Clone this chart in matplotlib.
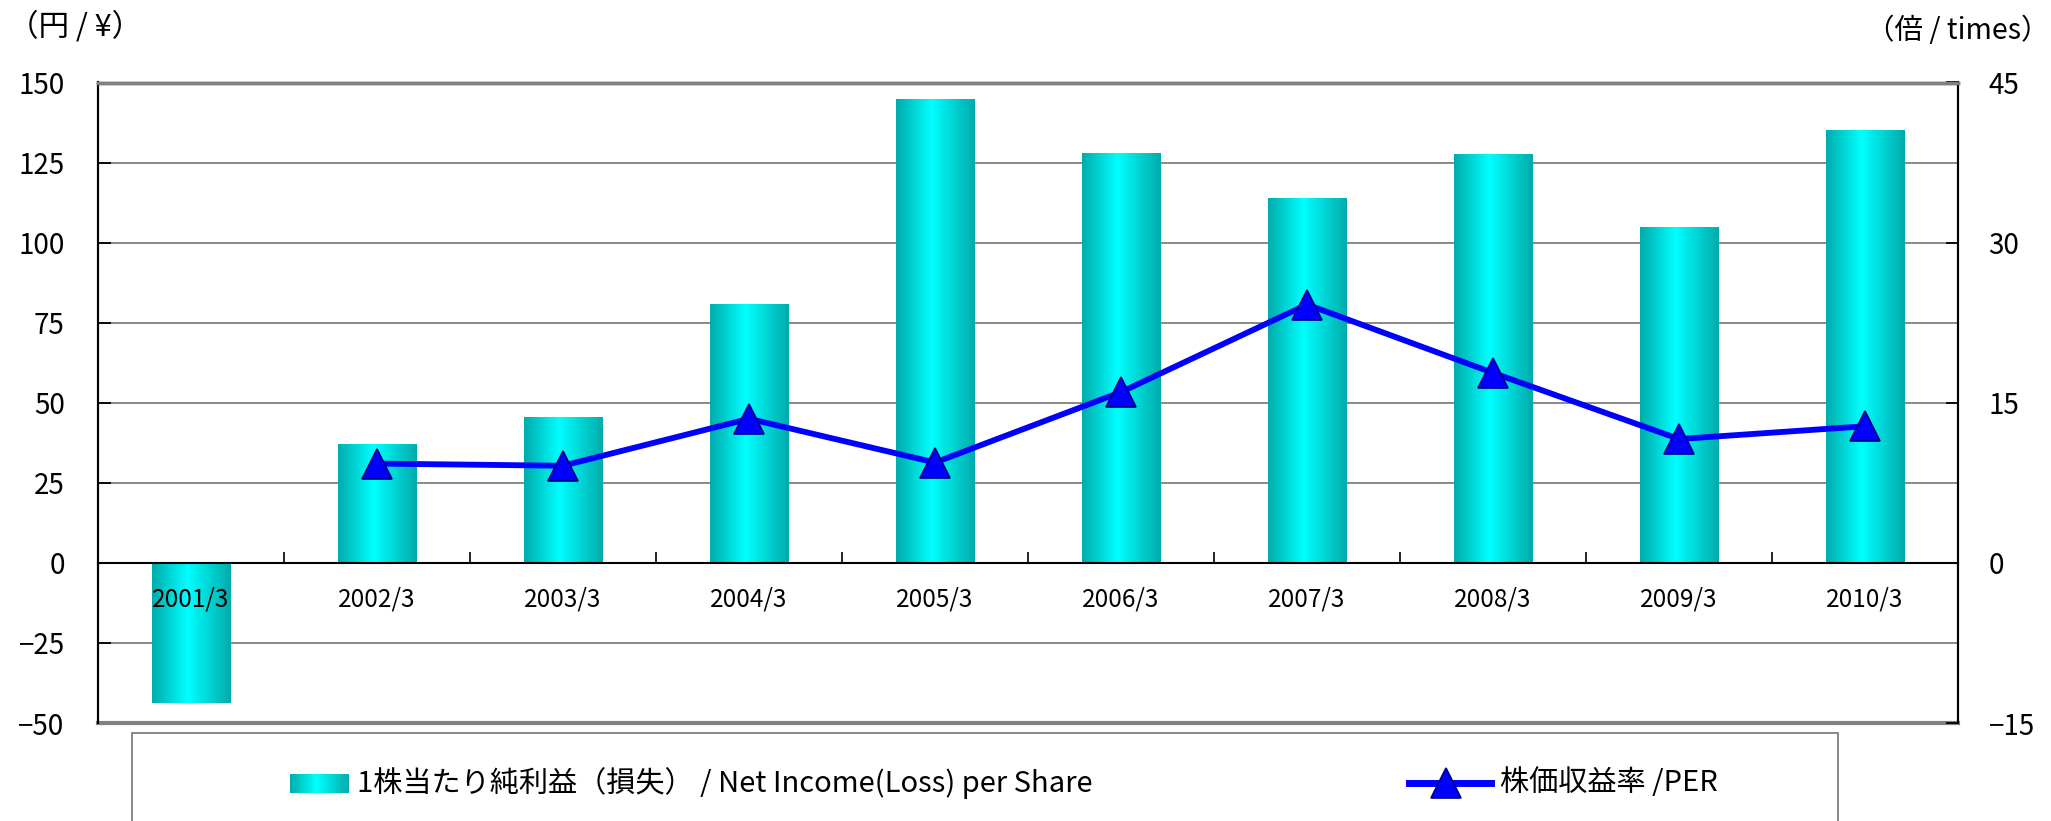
import matplotlib.pyplot as plt
import numpy as np
from matplotlib.colors import LinearSegmentedColormap
from matplotlib.patches import Rectangle
from matplotlib.lines import Line2D

plt.rcParams['font.family'] = ['Noto Sans CJK JP', 'DejaVu Sans']

years = ['2001/3', '2002/3', '2003/3', '2004/3', '2005/3',
         '2006/3', '2007/3', '2008/3', '2009/3', '2010/3']
eps = [-43.6, 37.0, 45.4, 80.7, 144.7, 128.0, 113.7, 127.6, 104.8, 134.9]
per = [np.nan, 9.3, 9.1, 13.5, 9.4, 16.0, 24.2, 17.8, 11.6, 12.8]
left_ticks = [-50, -25, 0, 25, 50, 75, 100, 125, 150]
right_ticks = [-15, 0, 15, 30, 45]

W, H = 2051, 821
fig = plt.figure(figsize=(W / 100, H / 100), dpi=100)
ax = fig.add_axes([98 / W, 1 - 723 / H, (1958 - 98) / W, (723 - 82.5) / H])

cm = LinearSegmentedColormap.from_list('bar', [(0, '#00abab'), (0.45, '#00ffff'), (1, '#00abab')])
grad = np.linspace(0, 1, 256).reshape(1, -1)

x = np.arange(len(years))
bars = ax.bar(x, eps, 0.42, color='none', zorder=2)
for b in bars:
    ax.imshow(grad, cmap=cm, aspect='auto', zorder=2,
              extent=[b.get_x(), b.get_x() + b.get_width(), b.get_y(), b.get_y() + b.get_height()])

ax.set_xlim(-0.5, len(years) - 0.5)
ax.set_ylim(-50, 150)
ax.set_yticks(left_ticks)
ax.set_axisbelow(True)
ax.yaxis.grid(True, color='#808080', lw=1.3)
ax.tick_params(axis='y', direction='in', length=9, width=1.3, labelsize=20, pad=24)

# x axis sits on the zero line, labels drawn over the bars
ax.spines['bottom'].set_position(('data', 0))
ax.spines['bottom'].set_linewidth(1.5)
ax.spines['bottom'].set_zorder(3)
ax.set_xticks(x)
ax.set_xticklabels(years)
ax.set_xticks(x[:-1] + 0.5, minor=True)
ax.tick_params(axis='x', which='major', length=0, labelsize=17.5, pad=17)
ax.tick_params(axis='x', which='minor', direction='in', length=8, width=1.2)
ax.xaxis.set_zorder(5)
ax.axhline(-50, color='#808080', lw=3, clip_on=False, zorder=3)

ax2 = ax.twinx()
ax2.plot(x, per, color='#0000ff', lw=4.2, marker='^', ms=21, mfc='#0000ff', mec='#000080', mew=1.2, zorder=4)
ax2.set_ylim(-15, 45)
ax2.set_yticks(right_ticks)
ax2.tick_params(axis='y', direction='in', length=9, width=1.3, labelsize=20, pad=22)

for a in (ax, ax2):
    a.spines['top'].set_color('#808080')
    a.spines['top'].set_linewidth(2.5)
    a.spines['left'].set_linewidth(1.5)
    a.spines['right'].set_linewidth(1.5)
ax2.spines['bottom'].set_visible(False)

fig.text(8 / W, 1 - 27 / H, '（円 / ¥）', fontsize=22, va='center', ha='left')
fig.text(1 - 2 / W, 1 - 31 / H, '（倍 / times）', fontsize=20.5, va='center', ha='right')

# legend box
fig.add_artist(Rectangle((132 / W, -0.1), (1838 - 132) / W, 0.1 + 1 - 733 / H,
                         transform=fig.transFigure, fill=False, ec='#808080', lw=1.3))
lax = fig.add_axes([290 / W, 1 - 793 / H, 59 / W, 19 / H])
lax.imshow(grad, cmap=cm, aspect='auto')
lax.axis('off')
ly = 1 - 783 / H
fig.text(357 / W, ly, '1株当たり純利益（損失） / Net Income(Loss) per Share', fontsize=21, va='center')
fig.add_artist(Line2D([1409 / W, 1491 / W], [ly, ly], color='#0000ff', lw=5, transform=fig.transFigure))
fig.add_artist(Line2D([1446 / W], [ly], marker='^', ms=21, mfc='#0000ff', mec='#000080', mew=1.2,
                      transform=fig.transFigure))
fig.text(1500 / W, ly, '株価収益率 /PER', fontsize=21, va='center')

fig.savefig('out.png', dpi=100)
